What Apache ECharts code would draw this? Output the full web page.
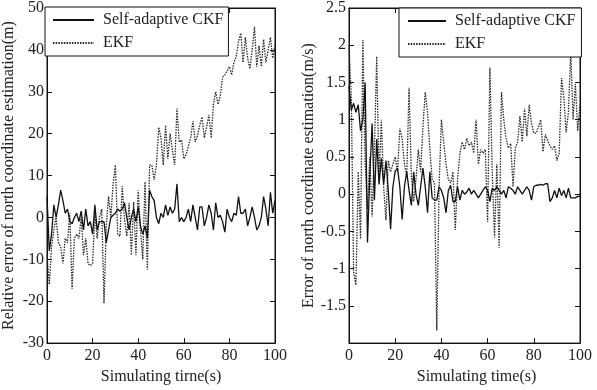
<!DOCTYPE html>
<html>
<head>
<meta charset="utf-8">
<script src="https://cdn.jsdelivr.net/npm/echarts@6/dist/echarts.min.js"></script>
<style>
html,body{margin:0;padding:0;background:#fff;}
#c{width:597px;height:390px;}
</style>
</head>
<body>
<div id="c"></div>
<script>
var timeS = [0,1,2,3,4,5,6,7,8,9,10,11,12,13,14,15,16,17,18,19,20,21,22,23,24,25,26,27,28,29,30,31,32,33,34,35,36,37,38,39,40,41,42,43,44,45,46,47,48,49,50,51,52,53,54,55,56,57,58,59,60,61,62,63,64,65,66,67,68,69,70,71,72,73,74,75,76,77,78,79,80,81,82,83,84,85,86,87,88,89,90,91,92,93,94,95,96,97,98,99,100];

var posCKF = [5,-8,-4,3,0,3,6.5,4,1,2,-1,-1.5,0,1,-1,1.5,-3,2,-2,-1,-4,3,-3,-1,-1,-1,-6,-3,0,0.5,1,2,1.5,2,3.5,0,-3,0,2,-1,2.5,-2,-4,-2,-5,6.5,5,4,0,-1.5,1,0,3,0.5,2.5,1,2,8,-1,0,-1,0,2,-1,3,0,-3,2.5,2.5,-2,0,3,1,-3,3.5,0,0.5,-1,-3.5,2,0,-1,1,0.5,5,1,1,2,-2,0,2.5,0,-3,-2,0,5,2,-2,6,1,4];

var posEKF = [-9,-16,-7,-3,0,-6,-7,-11,-5,-6,1,-17,-5,-4,-5,0,-9,-5,-11,-11.5,-11,1,-5,0,2,-20.5,-2,5,0,8,12.5,-4,-4.5,7.5,-0.5,-4.5,3.5,-9,3.7,-9,6.5,-3,-10,8.5,-12.5,12.5,12.5,9,12.5,21.5,19,12.5,22,14,20,16,12.5,26,18,18.5,14,15,17,19,23,18,19.5,22,24,19,21.5,24.5,19,27,30,27,29,33.5,34,35,36,34,37,38.5,42,44,37,43,38,35.5,40,45.5,36,41,36,42.5,37,40,43,38,41];

var velCKF = [1.45,1.13,1.22,1.1,1.2,0.85,1.0,1.5,-0.65,0.25,0.95,-0.08,0.74,0.13,0.48,0.13,0.45,0.05,-0.47,0.1,0.31,0.35,0.1,-0.34,0.1,0.3,0.05,-0.15,0.3,0.0,-0.15,0.1,0.35,0.1,-0.25,0.3,-0.05,-0.08,-0.08,0.1,0.05,-0.05,-0.25,0.05,0.12,-0.1,-0.1,0.1,-0.08,0.05,0.0,0.03,0.08,0.0,0.05,0.0,-0.05,0.0,0.05,0.1,0.05,-0.1,0.08,0.05,0.1,0.05,0.0,0.05,-0.05,0.1,0.08,0.05,0.0,0.1,0.05,0.0,0.05,0.1,0.05,-0.08,0.1,0.12,0.12,0.13,0.12,0.14,0.14,-0.1,-0.05,0.05,-0.05,0.08,-0.02,0.05,-0.05,0.08,-0.05,-0.05,-0.05,-0.03,-0.03];

var velEKF = [2.0,1.3,-1.05,-1.22,0.3,-0.6,2.07,0.4,-0.2,0.5,-0.3,0.6,1.85,0.2,1.0,0.1,-0.35,0.45,0.3,0.4,0.5,0.3,0.88,0.75,0.4,0.25,1.43,0.25,-0.1,0.2,0.6,0.3,0.9,1.37,1.1,0.6,0.2,0.15,-1.83,0.1,1.0,0.7,0.4,0.2,0.15,0.3,-0.48,0.2,0.55,0.7,0.6,0.75,0.65,0.7,0.55,1.0,0.4,0.6,0.55,0.6,-0.37,1.7,0.3,-0.58,0.4,-0.72,1.37,1.0,0.75,0.62,0.68,0.1,0.62,0.7,1.05,0.7,1.15,0.78,1.2,0.95,0.82,0.82,0.9,1.0,0.57,0.8,0.72,0.65,0.6,0.65,0.45,0.55,1.56,1.3,0.83,1.1,1.92,1.0,1.48,0.85,1.2];

var xTicks = [0,20,40,60,80,100];
var leftYTicks = [-30,-20,-10,0,10,20,30,40,50];
var rightYTicks = [-2,-1.5,-1,-0.5,0,0.5,1,1.5,2,2.5];
var names = ['Self-adaptive CKF','EKF'];

function pairs(v){ var out=[]; for (var i=0;i<v.length;i++) out.push([timeS[i], v[i]]); return out; }

var FONT = "'Liberation Serif','Times New Roman',serif";
var TXT = '#222';

function xAx(grid, pos, name, pad){
  return {
    gridIndex: grid, type:'value', position: pos,
    min: xTicks[0], max: xTicks[xTicks.length-1], interval: xTicks[1]-xTicks[0],
    axisLine:{show:true, onZero:false, lineStyle:{color:'#111', width:1}},
    axisTick:{show:true, inside:true, length:5, lineStyle:{color:'#111'}},
    splitLine:{show:false},
    axisLabel:{show: pos==='bottom', margin:5, color:TXT, fontFamily:FONT, fontSize:16},
    name: pos==='bottom' ? name : '', nameLocation:'middle', nameGap:22,
    nameTextStyle:{color:TXT, fontFamily:FONT, fontSize:16, padding: pad || 0}
  };
}
function yAx(grid, pos, ticks, name, showMin){
  return {
    gridIndex: grid, type:'value', position: pos,
    min: ticks[0], max: ticks[ticks.length-1], interval: ticks[1]-ticks[0],
    axisLine:{show:true, onZero:false, lineStyle:{color:'#111', width:1}},
    axisTick:{show:true, inside:true, length:5, lineStyle:{color:'#111'}},
    splitLine:{show:false},
    axisLabel:{show: pos==='left', margin:3, color:TXT, fontFamily:FONT, fontSize:16, showMinLabel: showMin},
    name: pos==='left' ? name : '', nameLocation:'middle', nameGap:30, nameRotate:90,
    nameTextStyle:{color:TXT, fontFamily:FONT, fontSize:16}
  };
}

var solid = {color:'#111', width:1.3, type:'solid'};
var dotted = {color:'#2a2a2a', width:1.3, type:[1.5,1.2]};

function legendAt(left, top, pad, iw){
  return {
    left:left, top:top, orient:'vertical', data:names,
    backgroundColor:'#fff', borderColor:'#111', borderWidth:1, borderRadius:0,
    padding:pad, itemWidth:iw, itemHeight:14, itemGap:7,
    itemStyle:{opacity:0},
    textStyle:{color:TXT, fontFamily:FONT, fontSize:16, lineHeight:14, padding:[0,0,0,4]},
    selectedMode:false
  };
}

var chart = echarts.init(document.getElementById('c'), null, {renderer:'canvas'});
chart.setOption({
  animation:false,
  backgroundColor:'#fff',
  grid:[
    {left:45, right:322, top:7, bottom:41, show:true, borderColor:'#111', borderWidth:1},
    {left:349, right:17, top:8, bottom:39, show:true, borderColor:'#111', borderWidth:1}
  ],
  xAxis:[
    xAx(0,'bottom','Simulating tirne(s)'),
    xAx(0,'top',''),
    xAx(1,'bottom','Simulating time(s)',[0,0,0,24]),
    xAx(1,'top','')
  ],
  yAxis:[
    yAx(0,'left',leftYTicks,'Relative error of north coordinate estimation(m)',true),
    yAx(0,'right',leftYTicks,'',true),
    yAx(1,'left',rightYTicks,'Error of north coordinate estimation(m/s)',false),
    yAx(1,'right',rightYTicks,'',false)
  ],
  legend:[
    legendAt(45, 7, [5,5,5,7], 41),
    legendAt(399, 8, [5,6,5,8], 38)
  ],
  series:[
    {name:names[0], type:'line', xAxisIndex:0, yAxisIndex:0, data:pairs(posCKF), symbol:'none', lineStyle:solid, itemStyle:{color:'#111'}, z:3},
    {name:names[1], type:'line', xAxisIndex:0, yAxisIndex:0, data:pairs(posEKF), symbol:'none', lineStyle:dotted, itemStyle:{color:'#333'}, z:2},
    {name:names[0], type:'line', xAxisIndex:2, yAxisIndex:2, data:pairs(velCKF), symbol:'none', lineStyle:solid, itemStyle:{color:'#111'}, z:3},
    {name:names[1], type:'line', xAxisIndex:2, yAxisIndex:2, data:pairs(velEKF), symbol:'none', lineStyle:dotted, itemStyle:{color:'#333'}, z:2}
  ]
});
</script>
</body>
</html>
